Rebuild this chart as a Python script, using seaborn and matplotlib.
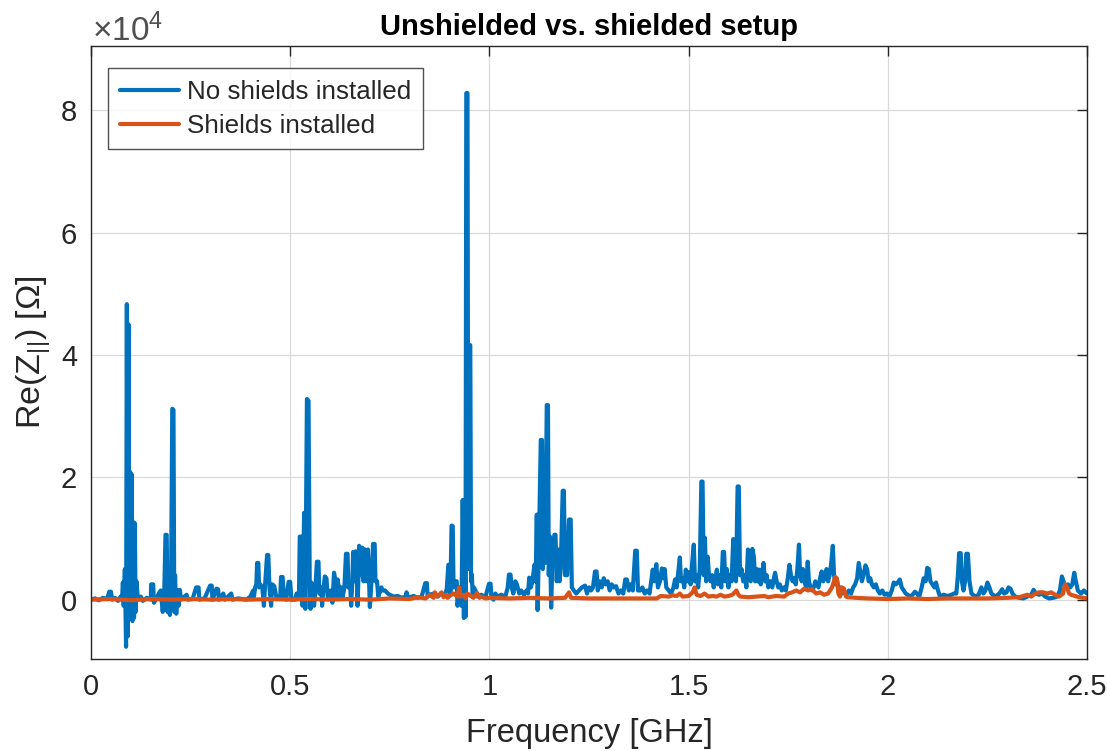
import matplotlib
matplotlib.use("Agg")
import matplotlib.pyplot as plt
import seaborn as sns
import pandas as pd

# Re(Z_||) in units of 1e4 Ohm, frequency in GHz
no_shield_pts = [
    (0.000,0.00),(0.010,0.02),(0.020,-0.01),(0.030,0.03),(0.040,0.01),(0.046,0.13),(0.050,0.13),(0.053,0.00),
    (0.060,0.03),(0.068,-0.02),(0.074,0.05),(0.078,0.02),(0.080,0.28),(0.082,-0.10),(0.085,0.50),(0.088,-0.77),
    (0.090,4.83),(0.092,-0.60),(0.094,4.50),(0.096,-0.30),(0.098,2.09),(0.100,-0.30),(0.102,2.05),(0.104,-0.35),
    (0.106,1.27),(0.108,-0.30),(0.110,1.25),(0.112,-0.20),(0.114,0.30),(0.118,0.00),(0.125,0.05),(0.130,-0.02),
    (0.140,0.03),(0.150,0.00),(0.151,0.25),(0.156,0.25),(0.158,-0.05),(0.165,0.03),(0.170,0.10),(0.175,0.15),
    (0.180,-0.20),(0.184,0.15),(0.187,1.06),(0.190,1.06),(0.192,-0.20),(0.195,0.20),(0.198,-0.25),(0.201,0.30),
    (0.204,3.12),(0.207,3.10),(0.209,-0.20),(0.211,0.40),(0.214,-0.23),(0.217,0.15),(0.220,-0.10),(0.223,0.16),
    (0.226,0.00),(0.240,0.08),(0.243,0.00),(0.255,0.01),(0.264,0.20),(0.270,0.20),(0.272,0.00),(0.285,0.02),
    (0.299,0.23),(0.303,0.23),(0.305,0.00),(0.315,0.18),(0.319,0.17),(0.321,0.00),(0.332,0.10),(0.336,0.00),
    (0.352,0.10),(0.355,0.00),(0.370,0.02),(0.390,0.00),(0.400,0.05),(0.407,0.15),(0.409,0.05),(0.412,0.20),
    (0.415,0.25),(0.417,0.60),(0.420,0.60),(0.422,0.20),(0.425,0.25),(0.430,0.20),(0.434,-0.10),(0.437,0.25),
    (0.442,0.73),(0.445,0.73),(0.448,0.20),(0.452,-0.10),(0.455,0.25),(0.460,0.22),(0.465,0.05),(0.475,0.05),
    (0.477,0.37),(0.481,0.37),(0.484,0.05),(0.490,0.00),(0.496,0.29),(0.500,0.29),(0.503,0.00),(0.512,0.00),
    (0.516,0.10),(0.522,0.05),(0.524,1.03),(0.529,1.03),(0.531,-0.10),(0.535,1.42),(0.538,-0.15),(0.542,3.28),
    (0.546,3.25),(0.549,0.28),(0.551,-0.15),(0.553,0.28),(0.556,0.10),(0.560,-0.10),(0.563,0.15),(0.567,0.62),
    (0.571,0.62),(0.573,0.10),(0.578,0.20),(0.580,-0.10),(0.583,0.15),(0.587,0.38),(0.591,0.35),(0.594,0.05),
    (0.598,0.10),(0.602,0.15),(0.606,-0.05),(0.610,0.44),(0.614,0.30),(0.617,0.05),(0.619,0.33),(0.622,0.20),
    (0.625,0.05),(0.628,0.20),(0.632,0.05),(0.636,0.20),(0.640,0.75),(0.644,0.75),(0.646,0.20),(0.650,0.30),
    (0.653,-0.10),(0.656,0.30),(0.658,0.78),(0.661,0.30),(0.664,0.79),(0.667,0.50),(0.669,-0.10),(0.671,0.30),
    (0.673,0.88),(0.677,0.40),(0.681,0.85),(0.684,0.30),(0.688,0.82),(0.691,0.30),(0.695,0.82),(0.698,0.30),
    (0.700,-0.12),(0.704,0.30),(0.708,0.91),(0.712,0.91),(0.714,0.30),(0.718,0.30),(0.721,0.05),(0.729,0.20),
    (0.732,0.15),(0.738,0.15),(0.745,0.10),(0.750,0.08),(0.760,0.05),(0.770,0.06),(0.780,0.03),(0.790,0.05),
    (0.792,0.12),(0.795,0.05),(0.800,0.04),(0.810,0.06),(0.820,0.03),(0.830,0.05),(0.839,0.27),(0.843,0.27),
    (0.845,0.05),(0.850,0.08),(0.860,0.10),(0.870,0.05),(0.880,0.10),(0.888,0.06),(0.893,0.18),(0.897,0.57),
    (0.900,0.57),(0.902,0.10),(0.905,1.21),(0.908,1.20),(0.910,0.20),(0.913,0.30),(0.918,0.30),(0.920,-0.10),
    (0.925,0.20),(0.930,-0.10),(0.933,1.63),(0.936,-0.30),(0.938,1.63),(0.940,-0.28),(0.942,8.28),(0.945,8.28),
    (0.947,0.50),(0.949,4.15),(0.952,4.16),(0.954,0.30),(0.956,0.41),(0.958,0.05),(0.961,0.20),(0.965,0.15),
    (0.970,0.05),(0.980,0.08),(0.990,0.04),(0.999,0.26),(1.003,0.26),(1.005,0.05),(1.010,0.00),(1.015,0.10),
    (1.020,0.05),(1.030,0.08),(1.040,0.05),(1.046,0.20),(1.049,0.41),(1.053,0.41),(1.056,0.20),(1.060,0.10),
    (1.065,0.30),(1.069,0.25),(1.075,0.10),(1.080,0.15),(1.087,0.08),(1.093,0.15),(1.097,0.10),(1.100,0.36),
    (1.104,0.20),(1.108,0.30),(1.113,0.57),(1.116,0.30),(1.119,1.39),(1.121,-0.17),(1.124,0.80),(1.129,2.61),
    (1.132,2.61),(1.134,0.50),(1.137,1.40),(1.140,0.60),(1.144,3.18),(1.147,3.18),(1.149,0.40),(1.152,1.03),
    (1.155,-0.13),(1.158,0.60),(1.163,1.06),(1.166,1.06),(1.169,0.30),(1.173,0.82),(1.176,0.30),(1.179,0.50),
    (1.184,1.78),(1.187,1.78),(1.190,0.40),(1.195,0.40),(1.200,1.31),(1.204,1.31),(1.207,0.20),(1.212,0.15),
    (1.218,0.10),(1.225,0.15),(1.232,0.20),(1.240,0.23),(1.245,0.10),(1.250,0.20),(1.255,0.15),(1.260,0.20),
    (1.265,0.46),(1.269,0.46),(1.272,0.15),(1.277,0.30),(1.282,0.20),(1.287,0.35),(1.292,0.25),(1.297,0.30),
    (1.302,0.15),(1.307,0.25),(1.312,0.20),(1.318,0.22),(1.324,0.10),(1.330,0.15),(1.336,0.10),(1.341,0.33),
    (1.345,0.33),(1.350,0.15),(1.355,0.25),(1.360,0.15),(1.366,0.80),(1.370,0.80),(1.373,0.15),(1.378,0.15),
    (1.384,0.20),(1.390,0.10),(1.396,0.15),(1.402,0.10),(1.410,0.49),(1.414,0.30),(1.419,0.58),(1.423,0.20),
    (1.428,0.30),(1.433,0.51),(1.437,0.35),(1.440,0.50),(1.444,0.20),(1.450,0.15),(1.456,0.10),(1.462,0.20),
    (1.466,0.33),(1.470,0.20),(1.475,0.50),(1.478,0.69),(1.481,0.30),(1.486,0.35),(1.489,0.20),(1.493,0.49),
    (1.497,0.30),(1.501,0.45),(1.505,0.25),(1.509,0.60),(1.513,0.90),(1.516,0.30),(1.520,0.40),(1.524,0.20),
    (1.528,0.50),(1.532,1.93),(1.535,1.93),(1.538,0.40),(1.541,1.01),(1.544,0.30),(1.548,0.70),(1.551,0.40),
    (1.555,0.30),(1.559,0.40),(1.563,0.20),(1.567,0.35),(1.571,0.49),(1.574,0.25),(1.578,0.40),(1.582,0.20),
    (1.586,0.78),(1.589,0.78),(1.592,0.30),(1.596,0.50),(1.600,0.20),(1.604,0.40),(1.608,0.30),(1.612,0.99),
    (1.615,0.40),(1.619,0.30),(1.623,1.85),(1.626,1.85),(1.629,0.40),(1.633,0.50),(1.637,0.30),(1.641,0.40),
    (1.645,0.20),(1.649,0.82),(1.652,0.40),(1.656,0.30),(1.660,0.83),(1.664,0.70),(1.667,0.30),(1.671,0.50),
    (1.674,0.30),(1.677,0.49),(1.681,0.25),(1.685,0.45),(1.688,0.60),(1.692,0.30),(1.696,0.40),(1.700,0.20),
    (1.705,0.30),(1.710,0.20),(1.714,0.35),(1.717,0.44),(1.721,0.30),(1.725,0.20),(1.729,0.25),(1.734,0.15),
    (1.739,0.20),(1.744,0.15),(1.749,0.35),(1.753,0.57),(1.757,0.40),(1.761,0.30),(1.765,0.35),(1.769,0.25),
    (1.773,0.50),(1.777,0.90),(1.780,0.40),(1.784,0.30),(1.787,0.50),(1.791,0.30),(1.795,0.20),(1.799,0.62),
    (1.802,0.30),(1.806,0.20),(1.810,0.15),(1.814,0.20),(1.818,0.30),(1.822,0.25),(1.826,0.20),(1.830,0.35),
    (1.834,0.46),(1.838,0.30),(1.842,0.40),(1.846,0.50),(1.850,0.30),(1.854,0.40),(1.858,0.60),(1.862,0.88),
    (1.865,0.40),(1.869,0.25),(1.873,0.30),(1.877,0.15),(1.881,0.20),(1.885,0.10),(1.890,0.12),(1.896,0.08),
    (1.902,0.15),(1.908,0.10),(1.913,0.20),(1.918,0.25),(1.923,0.35),(1.927,0.60),(1.931,0.45),(1.935,0.30),
    (1.939,0.40),(1.944,0.56),(1.948,0.50),(1.952,0.30),(1.956,0.35),(1.960,0.25),(1.965,0.20),(1.970,0.25),
    (1.975,0.15),(1.980,0.10),(1.986,0.15),(1.992,0.08),(1.998,0.10),(2.004,0.05),(2.010,0.15),(2.015,0.28),
    (2.020,0.25),(2.025,0.28),(2.030,0.33),(2.035,0.20),(2.040,0.15),(2.045,0.10),(2.050,0.08),(2.056,0.05),
    (2.062,0.08),(2.068,0.13),(2.073,0.10),(2.079,0.05),(2.085,0.20),(2.090,0.35),(2.095,0.30),(2.099,0.52),
    (2.103,0.50),(2.107,0.30),(2.112,0.25),(2.117,0.20),(2.121,0.28),(2.126,0.15),(2.131,0.05),(2.140,0.08),
    (2.150,0.06),(2.160,0.08),(2.166,0.10),(2.172,0.10),(2.176,0.40),(2.179,0.76),(2.183,0.76),(2.186,0.30),
    (2.190,0.15),(2.194,0.30),(2.197,0.75),(2.201,0.75),(2.205,0.30),(2.210,0.10),(2.220,0.05),(2.228,0.08),
    (2.235,0.20),(2.240,0.10),(2.245,0.15),(2.250,0.28),(2.255,0.20),(2.260,0.10),(2.270,0.05),(2.280,0.10),
    (2.287,0.17),(2.292,0.10),(2.298,0.12),(2.303,0.20),(2.308,0.18),(2.313,0.10),(2.320,0.05),(2.330,0.03),
    (2.340,0.02),(2.350,0.05),(2.360,0.08),(2.366,0.16),(2.372,0.10),(2.380,0.08),(2.387,0.10),(2.395,0.05),
    (2.405,0.02),(2.415,0.03),(2.425,0.05),(2.432,0.15),(2.437,0.38),(2.441,0.30),(2.446,0.20),(2.452,0.25),
    (2.458,0.20),(2.463,0.25),(2.468,0.44),(2.472,0.30),(2.477,0.15),(2.485,0.10),(2.492,0.15),(2.500,0.10),
]

shield_pts = [
    (0.00,0.00),(0.05,0.01),(0.10,-0.01),(0.15,0.01),(0.20,0.00),(0.25,0.01),(0.30,0.00),(0.35,0.01),
    (0.40,0.00),(0.45,0.01),(0.50,0.00),(0.55,0.01),(0.60,0.00),(0.65,0.01),(0.70,0.00),(0.75,0.02),
    (0.80,0.01),(0.82,0.04),(0.84,0.02),(0.85,0.08),(0.86,0.03),(0.863,0.12),(0.87,0.05),(0.88,0.12),
    (0.885,0.04),(0.89,0.08),(0.895,0.03),(0.90,0.06),(0.91,0.10),(0.92,0.05),(0.924,0.20),(0.928,0.05),
    (0.935,0.08),(0.94,0.02),(0.945,0.10),(0.96,0.03),(0.969,0.11),(0.975,0.03),(0.98,0.05),(0.99,0.02),
    (1.00,0.03),(1.05,0.02),(1.10,0.03),(1.15,0.02),(1.19,0.03),(1.20,0.12),(1.205,0.03),(1.25,0.02),
    (1.30,0.02),(1.35,0.02),(1.40,0.02),(1.42,0.02),(1.43,0.06),(1.45,0.05),(1.46,0.07),(1.47,0.06),
    (1.478,0.10),(1.485,0.05),(1.50,0.06),(1.51,0.12),(1.515,0.20),(1.52,0.08),(1.53,0.06),(1.54,0.10),
    (1.55,0.05),(1.56,0.06),(1.57,0.05),(1.58,0.08),(1.59,0.05),(1.60,0.06),(1.61,0.08),(1.62,0.15),
    (1.625,0.08),(1.63,0.05),(1.65,0.04),(1.67,0.05),(1.69,0.06),(1.70,0.04),(1.72,0.06),(1.74,0.05),
    (1.75,0.10),(1.76,0.12),(1.77,0.15),(1.78,0.12),(1.79,0.18),(1.80,0.15),(1.81,0.17),(1.82,0.10),
    (1.83,0.12),(1.84,0.08),(1.85,0.10),(1.86,0.20),(1.868,0.37),(1.872,0.35),(1.876,0.10),(1.88,0.05),
    (1.885,0.20),(1.89,0.18),(1.895,0.05),(1.90,0.04),(1.92,0.03),(1.95,0.02),(2.00,0.01),(2.05,0.02),
    (2.10,0.01),(2.15,0.02),(2.20,0.02),(2.25,0.02),(2.30,0.03),(2.33,0.04),(2.35,0.08),(2.36,0.05),
    (2.37,0.10),(2.38,0.12),(2.39,0.12),(2.40,0.10),(2.41,0.12),(2.42,0.08),(2.43,0.05),(2.44,0.10),
    (2.445,0.25),(2.45,0.20),(2.455,0.10),(2.46,0.08),(2.47,0.06),(2.48,0.04),(2.49,0.03),(2.50,0.02),
]

no_shield_freq = [p[0] for p in no_shield_pts]
no_shield_re = [p[1] for p in no_shield_pts]
shield_freq = [p[0] for p in shield_pts]
shield_re = [p[1] for p in shield_pts]

series_names = ["No shields installed", "Shields installed"]
series_colors = ["#0072BD", "#D95319"]
x_ticks = [0, 0.5, 1, 1.5, 2, 2.5]
x_tick_labels = ["0", "0.5", "1", "1.5", "2", "2.5"]
y_ticks = [0, 2, 4, 6, 8]

sns.set_style("white")
plt.rcParams['font.family'] = ['Liberation Sans', 'DejaVu Sans']
plt.rcParams['mathtext.fontset'] = 'custom'
plt.rcParams['mathtext.rm'] = 'Liberation Sans'
plt.rcParams['mathtext.it'] = 'Liberation Sans'

df = pd.concat([
    pd.DataFrame({"freq": no_shield_freq, "re": no_shield_re, "series": series_names[0]}),
    pd.DataFrame({"freq": shield_freq, "re": shield_re, "series": series_names[1]}),
])

fig = plt.figure(figsize=(11.07, 7.51), dpi=100)
ax = fig.add_axes([91/1107, 1 - 659/751, (1087-91)/1107, (659-46)/751])

sns.lineplot(data=df, x="freq", y="re", hue="series", palette=series_colors,
             estimator=None, sort=False, linewidth=3.0, ax=ax)

txt = "#262626"
ax.set_xlim(0, 2.5)
ax.set_ylim(-0.97, 9.05)
ax.set_xticks(x_ticks)
ax.set_xticklabels(x_tick_labels)
ax.set_yticks(y_ticks)
ax.grid(True, color="#d9d9d9", linewidth=0.9)
ax.set_axisbelow(True)
for s in ax.spines.values():
    s.set_color(txt)
    s.set_linewidth(1.0)
ax.tick_params(direction="in", length=7, width=1, colors=txt, labelsize=21,
               top=True, right=True, pad=10)
ax.set_xlabel("Frequency [GHz]", fontsize=23.5, color=txt, labelpad=12)
ax.set_ylabel(r"Re(Z$_{||}$) [$\Omega$]", fontsize=24.5, color=txt, labelpad=6)
ax.set_title("Unshielded vs. shielded setup", fontsize=21, fontweight="bold", color="black", pad=8)

fig.text(92/1107, 1 - 31/751, r"$\times$10$^{4}$", fontsize=24, color="#505050", va="center", ha="left")

leg = ax.legend(loc="upper left", bbox_to_anchor=(0.017, 0.964), fontsize=18.7, frameon=True,
                fancybox=False, edgecolor=txt, handlelength=2.3, borderpad=0.45,
                labelspacing=0.38, handletextpad=0.3, borderaxespad=0)
leg.get_frame().set_linewidth(1.0)
for t in leg.get_texts():
    t.set_color(txt)
for l in leg.get_lines():
    l.set_linewidth(3)

fig.savefig("out.png", dpi=100, facecolor="white")
